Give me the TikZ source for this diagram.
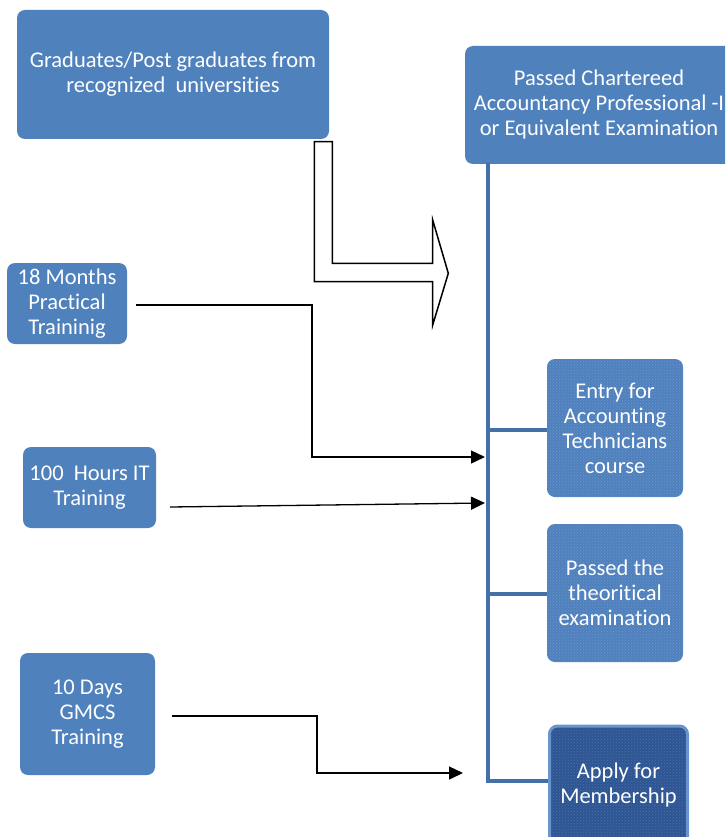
\documentclass[tikz,border=0pt]{standalone}
\usepackage{fontspec}
\setmainfont{Carlito}[RawFeature=-liga]
\usetikzlibrary{arrows.meta,patterns}
\definecolor{boxblue}{HTML}{4F81BD}
\definecolor{trunkblue}{HTML}{4470A8}
\definecolor{darkbox}{HTML}{2F5592}
\definecolor{dotblue}{HTML}{6A94CC}
\tikzset{
  bluebox/.style={draw=none, fill=boxblue, rounded corners=8pt, text=white, align=center,
    font=\fontsize{22.5}{25}\selectfont, inner sep=0pt},
  dotbox/.style={bluebox, preaction={fill=boxblue}, pattern=crosshatch dots, pattern color=dotblue},
  darkdotbox/.style={bluebox, draw=dotblue, line width=3pt, preaction={fill=darkbox},
    pattern=crosshatch dots, pattern color=trunkblue},
  trunk/.style={draw=trunkblue, line width=4pt},
  feed/.style={draw=black, line width=1.3pt, -{Triangle[length=14pt,width=13pt]}},
  bigarrow/.style={draw=black, line width=1.5pt, fill=white, line join=miter}
}
\begin{document}
\begin{tikzpicture}[x=1pt, y=-1pt]
\useasboundingbox (0,0) rectangle (725,837);
\begin{scope}
\clip (0,0) rectangle (725,837);
% boxes
\node[bluebox, minimum width=312pt, minimum height=129pt] (grad) at (173,74.5)
  {Graduates/Post graduates from\\recognized\ \ universities};
\node[bluebox, minimum width=268pt, minimum height=118pt] (cap) at (599,105)
  {Passed Chartereed\\Accountancy Professional -I\\or Equivalent Examination};
\node[bluebox, minimum width=120pt, minimum height=81pt] (m18) at (67,303.5)
  {18 Months\\Practical\\Traininig};
\node[bluebox, minimum width=133pt, minimum height=81pt] (it) at (89.5,487.5)
  {100\ \ Hours IT\\Training};
\node[bluebox, minimum width=135pt, minimum height=122pt] (gmcs) at (87.5,714)
  {10 Days\\GMCS\\Training};
\node[dotbox, minimum width=136pt, minimum height=138pt] (entry) at (615,428)
  {Entry for\\Accounting\\Technicians\\course};
\node[dotbox, minimum width=136pt, minimum height=138pt] (theo) at (615,593)
  {Passed the\\theoritical\\examination};
\node[darkdotbox, minimum width=138pt, minimum height=118pt] (apply) at (618.5,785)
  {Apply for\\Membership};
% trunk
\coordinate (t0) at (488,163);
\coordinate (t1) at (488,430);
\coordinate (t2) at (488,594);
\coordinate (t3) at (488,781);
\draw[trunk] (t0) -- (t3);
\draw[trunk] (t1) -- (t1 -| entry.west);
\draw[trunk] (t2) -- (t2 -| theo.west);
\draw[trunk] ([xshift=-2pt]t3) -- (t3 -| apply.west);
% feeders
\coordinate (e1) at (485,457);
\coordinate (e2) at (485,503);
\coordinate (e3) at (463,773);
\draw[feed] (136,305) -| (312,457) -- (e1);
\draw[feed] (170,507) -- (e2);
\draw[feed] (172,716) -| (317,773) -- (e3);
% big block arrow
\draw[bigarrow] (314.3,141.7) -- (332.3,141.7) -- (332.3,263.3) -- (432.7,263.3)
  -- (432.7,220) -- (448.3,273.3) -- (432.7,325) -- (432.7,281.7) -- (314.3,281.7) -- cycle;
\end{scope}
\end{tikzpicture}
\end{document}
